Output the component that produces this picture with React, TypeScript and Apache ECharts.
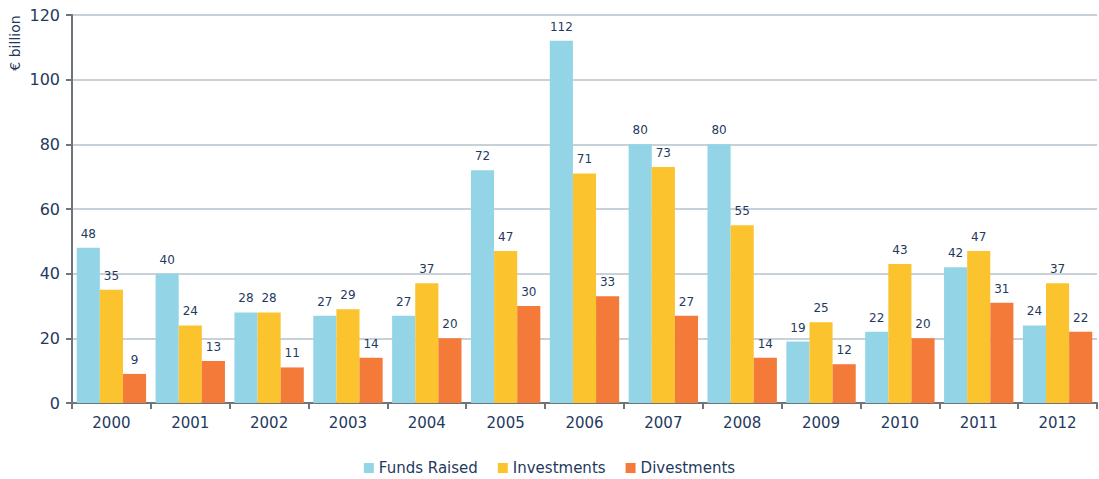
import React, { useEffect, useRef } from "react";
import * as echarts from "echarts";

const years = ["2000","2001","2002","2003","2004","2005","2006","2007","2008","2009","2010","2011","2012"];
const fundsRaised = [48, 40, 28, 27, 27, 72, 112, 80, 80, 19, 22, 42, 24];
const investments = [35, 24, 28, 29, 37, 47, 71, 73, 55, 25, 43, 47, 37];
const divestments = [9, 13, 11, 14, 20, 30, 33, 27, 14, 12, 20, 31, 22];
const yTicks = { min: 0, max: 120, interval: 20 };

const textColor = "#1F3A60";
const font = "DejaVu Sans";

export default function App() {
  const ref = useRef<HTMLDivElement>(null);
  useEffect(() => {
    const chart = echarts.init(ref.current!, null, { renderer: "svg" });
    const label = {
      show: true,
      position: "top",
      distance: 8,
      color: textColor,
      fontFamily: font,
      fontSize: 12,
      formatter: (p: any) => String(Math.round(p.value)),
    };
    const mk = (name: string, data: number[], color: string) => ({
      name,
      type: "bar",
      data,
      barGap: "0%",
      barCategoryGap: "12%",
      itemStyle: { color },
      label,
    });
    chart.setOption({
      animation: false,
      textStyle: { fontFamily: font },
      grid: { left: 72, right: 2, top: 15, bottom: 76 },
      legend: {
        top: 460,
        padding: [0, 5],
        left: "center",
        icon: "rect",
        itemWidth: 10,
        itemHeight: 10,
        itemGap: 20,
        textStyle: { color: textColor, fontSize: 15, fontFamily: font, lineHeight: 16 },
        data: ["Funds Raised", "Investments", "Divestments"],
      },
      graphic: [
        {
          type: "text",
          x: 15,
          y: 43,
          rotation: Math.PI / 2,
          style: {
            text: "€ billion",
            fill: textColor,
            font: `14px ${font}`,
            textAlign: "center",
            textVerticalAlign: "middle",
          },
        },
      ],
      xAxis: {
        type: "category",
        data: years,
        axisLine: { lineStyle: { color: "#6E7479", width: 2 } },
        axisTick: { show: true, alignWithLabel: false, length: 6, lineStyle: { color: "#6E7479", width: 2 } },
        axisLabel: { color: textColor, fontSize: 15, margin: 12, fontFamily: font },
      },
      yAxis: {
        type: "value",
        min: yTicks.min,
        max: yTicks.max,
        interval: yTicks.interval,
        axisLine: { show: true, lineStyle: { color: "#6E7479", width: 2 } },
        axisTick: { show: true, length: 6, lineStyle: { color: "#6E7479", width: 2 } },
        axisLabel: { color: textColor, fontSize: 16, margin: 12, fontFamily: font },
        splitLine: { lineStyle: { color: "#C9D1D8", width: 2 } },
      },
      series: [
        mk("Funds Raised", fundsRaised, "#93D5E6"),
        mk("Investments", investments, "#FBC42F"),
        mk("Divestments", divestments, "#F47A3A"),
      ],
    });
    return () => chart.dispose();
  }, []);
  return <div ref={ref} style={{ position: "absolute", left: 0, top: 0, width: 1099, height: 479 }} />;
}
